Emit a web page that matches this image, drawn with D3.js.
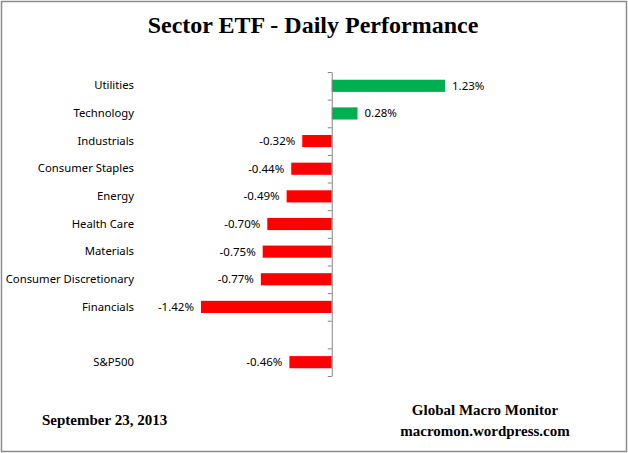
<!DOCTYPE html>
<html>
<head>
<meta charset="utf-8">
<script src="https://cdn.jsdelivr.net/npm/d3@7"></script>
<style>
  body { margin: 0; background: #fff; }
</style>
</head>
<body>
<script>
// Sector names, top to bottom (blank row before the index)
const sectors = ["Utilities", "Technology", "Industrials", "Consumer Staples", "Energy",
  "Health Care", "Materials", "Consumer Discretionary", "Financials", "", "S&P500"];
// Daily change in percent
const changes = [1.23, 0.28, -0.32, -0.44, -0.49, -0.70, -0.75, -0.77, -1.42, null, -0.46];

const width = 628, height = 453;
const labelFont = "'Noto Sans', 'Open Sans', sans-serif";
const serif = "'Liberation Serif', 'Times New Roman', serif";

const svg = d3.select("body").append("svg")
  .attr("width", width)
  .attr("height", height)
  .attr("font-family", labelFont);

// outer frame
svg.append("rect")
  .attr("x", 1.5).attr("y", 1.5)
  .attr("width", width - 3).attr("height", height - 3)
  .attr("fill", "#fff")
  .attr("stroke", "#8c8c8c")
  .attr("stroke-width", 1.5);

const rows = sectors.map((s, i) => ({ key: i, name: s, value: changes[i] }));

const x = d3.scaleLinear().domain([-1.42, 1.23]).range([201, 445]);

const y = d3.scaleBand()
  .domain(rows.map(d => d.key))
  .range([72, 376])
  .paddingInner(0.56)
  .paddingOuter(0.28);

// bars
svg.append("g")
  .selectAll("rect")
  .data(rows.filter(d => d.value !== null))
  .join("rect")
  .attr("x", d => x(Math.min(0, d.value)))
  .attr("y", d => y(d.key))
  .attr("width", d => Math.abs(x(d.value) - x(0)))
  .attr("height", y.bandwidth())
  .attr("fill", d => d.value >= 0 ? "#00b050" : "#ff0000");

// value labels
svg.append("g")
  .attr("font-size", 11.5)
  .selectAll("text")
  .data(rows.filter(d => d.value !== null))
  .join("text")
  .attr("x", d => d.value >= 0 ? x(d.value) + 7 : x(d.value) - 7)
  .attr("y", d => y(d.key) + y.bandwidth() / 2)
  .attr("dy", "0.35em")
  .attr("text-anchor", d => d.value >= 0 ? "start" : "end")
  .attr("fill", "#000")
  .text(d => d.value.toFixed(2) + "%");

// vertical axis at zero with ticks on the row boundaries
const edge = d3.scaleLinear().domain([0, sectors.length]).range(y.range());
svg.append("g")
  .attr("transform", `translate(${x(0)},0)`)
  .call(d3.axisLeft(edge).ticks(sectors.length).tickSize(4).tickSizeOuter(0).tickFormat(""))
  .call(g => g.selectAll("line, path").attr("stroke", "#868686"));

// category labels
svg.append("g")
  .attr("transform", "translate(134,0)")
  .call(d3.axisLeft(y).tickSize(0).tickPadding(0).tickFormat(k => sectors[k]))
  .call(g => g.select(".domain").remove())
  .call(g => g.selectAll("text")
    .attr("font-family", labelFont)
    .attr("font-size", 11.3)
    .attr("fill", "#000"));

// title and notes
svg.append("text")
  .attr("x", 313)
  .attr("y", 33)
  .attr("text-anchor", "middle")
  .attr("font-family", serif)
  .attr("font-weight", "bold")
  .attr("font-size", 24)
  .text("Sector ETF - Daily Performance");

const notes = svg.append("g")
  .attr("font-family", serif)
  .attr("font-weight", "bold")
  .attr("font-size", 15);

notes.append("text").attr("x", 42).attr("y", 425).text("September 23, 2013");
notes.append("text").attr("x", 485).attr("y", 415).attr("text-anchor", "middle").text("Global Macro Monitor");
notes.append("text").attr("x", 485).attr("y", 436).attr("text-anchor", "middle").text("macromon.wordpress.com");
</script>
</body>
</html>
